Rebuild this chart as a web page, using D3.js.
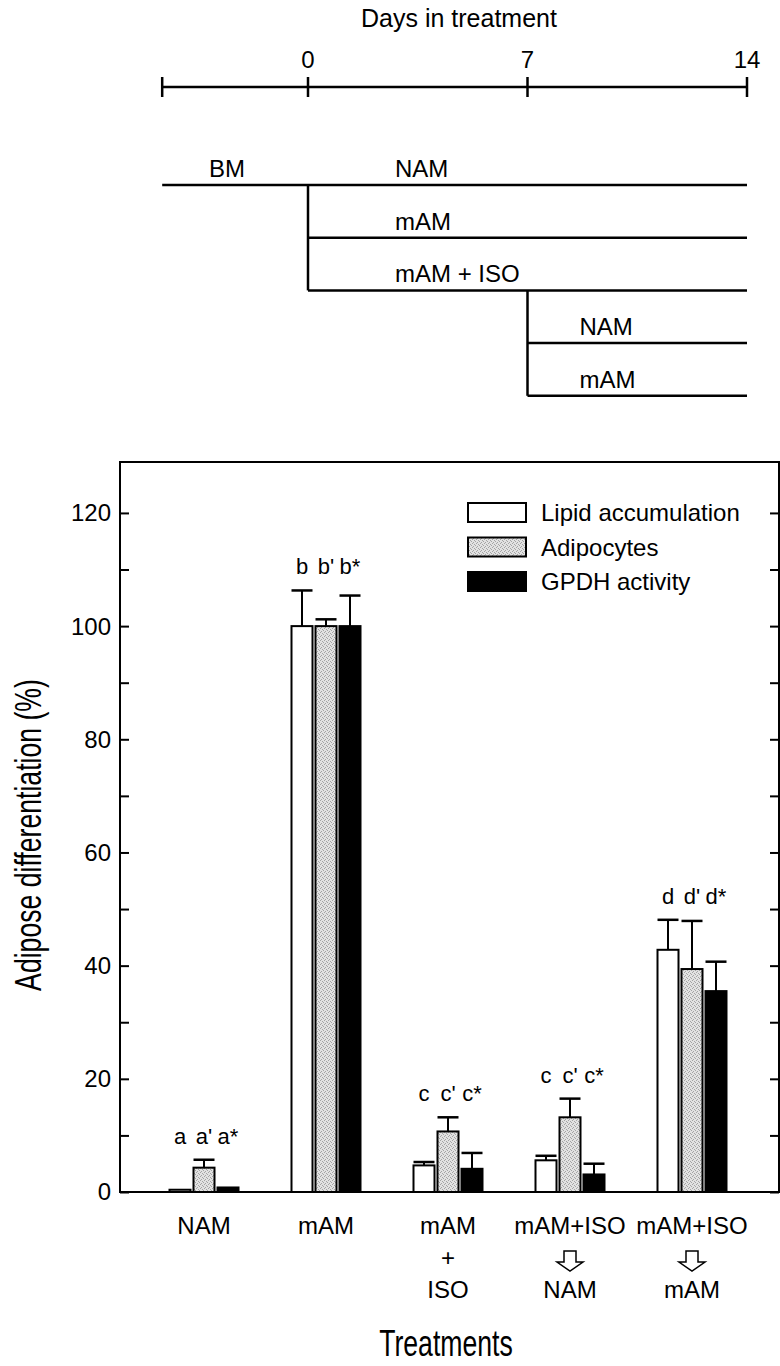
<!DOCTYPE html>
<html>
<head>
<meta charset="utf-8">
<script src="https://cdn.jsdelivr.net/npm/d3@7"></script>
<style>
  body { margin: 0; background: #fff; }
  svg { display: block; font-family: "Liberation Sans", Arial, sans-serif; }
</style>
</head>
<body>
<div id="chart"></div>
<script>
// Timeline (days in treatment)
const dayTicks = [0, 7, 14];
const bmStart = -4.65;
const phases = [
  {label: "BM", from: bmStart, to: 0, row: 0},
  {label: "NAM", from: 0, to: 14, row: 0},
  {label: "mAM", from: 0, to: 14, row: 1},
  {label: "mAM + ISO", from: 0, to: 14, row: 2},
  {label: "NAM", from: 7, to: 14, row: 3},
  {label: "mAM", from: 7, to: 14, row: 4}
];
const branches = [
  {day: 0, fromRow: 0, toRow: 2},
  {day: 7, fromRow: 2, toRow: 4}
];

// Bar chart data
const treatments = ["NAM", "mAM", "mAM+ISO", "mAM+ISO>NAM", "mAM+ISO>mAM"];
const treatmentLines = [["NAM"], ["mAM"], ["mAM", "+", "ISO"], ["mAM+ISO", "arrow", "NAM"], ["mAM+ISO", "arrow", "mAM"]];
const series = ["Lipid accumulation", "Adipocytes", "GPDH activity"];
const lipid = [0.4, 100, 4.7, 5.6, 42.8];
const lipidErr = [0, 6.3, 0.6, 0.8, 5.3];
const adipocytes = [4.3, 100, 10.7, 13.2, 39.4];
const adipocytesErr = [1.4, 1.2, 2.5, 3.3, 8.5];
const gpdh = [0.8, 100, 4.1, 3.1, 35.5];
const gpdhErr = [0, 5.4, 2.8, 1.9, 5.2];
const letters = [["a", "a'", "a*"], ["b", "b'", "b*"], ["c", "c'", "c*"], ["c", "c'", "c*"], ["d", "d'", "d*"]];
const yTicks = [0, 20, 40, 60, 80, 100, 120];

const fills = ["#ffffff", "url(#stipple)", "#000000"];

const W = 780, H = 1366;
const svg = d3.select("#chart").append("svg")
  .attr("width", W).attr("height", H)
  .attr("viewBox", `0 0 ${W} ${H}`);

// light stippled grey like the printed figure
const pat = svg.append("defs").append("pattern")
  .attr("id", "stipple").attr("patternUnits", "userSpaceOnUse")
  .attr("width", 4).attr("height", 4);
pat.append("rect").attr("width", 4).attr("height", 4).attr("fill", "#e2e2e2");
[[0, 0], [2, 1], [1, 3], [3, 2]].forEach(([px, py]) => {
  pat.append("rect").attr("x", px).attr("y", py).attr("width", 1).attr("height", 1).attr("fill", "#a4a4a4");
});

// ---------- timeline ----------
const t = d3.scaleLinear().domain([0, 14]).range([308, 747]);
const axisY = 87;
const rowY = r => 185 + r * 52.7;

svg.append("text")
  .attr("x", 459).attr("y", 27)
  .attr("text-anchor", "middle")
  .style("font-size", "25px")
  .text("Days in treatment");

svg.append("line")
  .attr("x1", t(bmStart)).attr("x2", t(14))
  .attr("y1", axisY).attr("y2", axisY)
  .attr("stroke", "#000").attr("stroke-width", 2.5);

svg.selectAll(".dtick")
  .data([bmStart, ...dayTicks])
  .join("line")
  .attr("x1", d => t(d)).attr("x2", d => t(d))
  .attr("y1", axisY - 10).attr("y2", axisY + 10)
  .attr("stroke", "#000").attr("stroke-width", 2.5);

svg.selectAll(".dlabel")
  .data(dayTicks)
  .join("text")
  .attr("x", d => t(d)).attr("y", 68)
  .attr("text-anchor", "middle")
  .style("font-size", "24px")
  .text(d => d);

svg.selectAll(".phase")
  .data(phases)
  .join("line")
  .attr("x1", d => t(d.from)).attr("x2", d => t(d.to))
  .attr("y1", d => rowY(d.row)).attr("y2", d => rowY(d.row))
  .attr("stroke", "#000").attr("stroke-width", 2.5);

svg.selectAll(".branch")
  .data(branches)
  .join("line")
  .attr("x1", d => t(d.day)).attr("x2", d => t(d.day))
  .attr("y1", d => rowY(d.fromRow)).attr("y2", d => rowY(d.toRow))
  .attr("stroke", "#000").attr("stroke-width", 2.5);

svg.selectAll(".plabel")
  .data(phases)
  .join("text")
  .attr("x", d => d.label === "BM" ? (t(d.from) + t(d.to)) / 2 - 8 : t(d.from) + (d.from === 0 ? 87 : 52))
  .attr("y", d => rowY(d.row) - 8)
  .attr("text-anchor", d => d.label === "BM" ? "middle" : "start")
  .style("font-size", "24px")
  .text(d => d.label);

// ---------- bar chart ----------
const plotL = 120, plotR = 779, plotT = 462, plotB = 1192;
const x = d3.scaleBand().domain(treatments).range([143, 753]);
const xs = d3.scaleBand().domain(series).range([-36, 36]);
const y = d3.scaleLinear().domain([0, 129]).range([plotB, plotT]);
const barW = 21;

const values = [lipid, adipocytes, gpdh];
const errs = [lipidErr, adipocytesErr, gpdhErr];
const bars = [];
treatments.forEach((c, i) => {
  series.forEach((s, j) => {
    bars.push({cat: c, ser: s, j, v: values[j][i], e: errs[j][i], letter: letters[i][j], i});
  });
});
const cx = d => x(d.cat) + x.bandwidth() / 2 + xs(d.ser) + xs.bandwidth() / 2;

// axes (ticks pointing inward)
svg.append("g")
  .attr("transform", `translate(${plotL},0)`)
  .call(d3.axisRight(y).tickValues(d3.range(0, 130, 10)).tickSize(9).tickFormat(""))
  .call(g => g.select(".domain").remove())
  .call(g => g.selectAll("line").attr("stroke-width", 2));

svg.append("g")
  .attr("transform", `translate(${plotR},0)`)
  .call(d3.axisLeft(y).tickValues(d3.range(0, 130, 10)).tickSize(9).tickFormat(""))
  .call(g => g.select(".domain").remove())
  .call(g => g.selectAll("line").attr("stroke-width", 2));

svg.selectAll(".ylab")
  .data(yTicks)
  .join("text")
  .attr("x", plotL - 9).attr("y", d => y(d))
  .attr("dy", "0.35em")
  .attr("text-anchor", "end")
  .style("font-size", "24px")
  .text(d => d);

// frame
svg.append("rect")
  .attr("x", plotL).attr("y", plotT)
  .attr("width", plotR - plotL).attr("height", plotB - plotT)
  .attr("fill", "none").attr("stroke", "#000").attr("stroke-width", 2);

// error bars
const eb = svg.append("g").selectAll("g")
  .data(bars.filter(d => d.e > 0))
  .join("g");
eb.append("line")
  .attr("x1", cx).attr("x2", cx)
  .attr("y1", d => y(d.v)).attr("y2", d => y(d.v + d.e))
  .attr("stroke", "#000").attr("stroke-width", 2);
eb.append("line")
  .attr("x1", d => cx(d) - barW / 2).attr("x2", d => cx(d) + barW / 2)
  .attr("y1", d => y(d.v + d.e)).attr("y2", d => y(d.v + d.e))
  .attr("stroke", "#000").attr("stroke-width", 2.5);

// bars
svg.append("g").selectAll("rect")
  .data(bars)
  .join("rect")
  .attr("x", d => cx(d) - barW / 2)
  .attr("y", d => y(d.v))
  .attr("width", barW)
  .attr("height", d => y(0) - y(d.v))
  .attr("fill", d => fills[d.j])
  .attr("stroke", "#000").attr("stroke-width", 2);

// significance letters
const groupTop = treatments.map((c, i) => d3.max(series, (s, j) => values[j][i] + errs[j][i]));
svg.append("g").selectAll("text")
  .data(bars)
  .join("text")
  .attr("x", cx)
  .attr("y", d => y(groupTop[d.i]) - 16)
  .attr("text-anchor", "middle")
  .style("font-size", "22px")
  .text(d => d.letter);

// legend
const lg = svg.append("g").attr("transform", "translate(468,503)");
series.forEach((s, j) => {
  lg.append("rect")
    .attr("x", 0).attr("y", j * 34.5)
    .attr("width", 58).attr("height", 19)
    .attr("fill", fills[j]).attr("stroke", "#000").attr("stroke-width", 2);
  lg.append("text")
    .attr("x", 73).attr("y", j * 34.5 + 18)
    .style("font-size", "24px")
    .text(s);
});

// category labels
treatments.forEach((c, i) => {
  const gx = x(c) + x.bandwidth() / 2;
  treatmentLines[i].forEach((ln, k) => {
    const ly = 1234 + k * 32;
    if (ln === "arrow") {
      const ay = 1251;
      svg.append("path")
        .attr("d", `M${gx - 6},${ay} L${gx + 6},${ay} L${gx + 6},${ay + 11} L${gx + 13},${ay + 11} L${gx},${ay + 20} L${gx - 13},${ay + 11} L${gx - 6},${ay + 11} Z`)
        .attr("fill", "#fff").attr("stroke", "#000").attr("stroke-width", 1.5);
    } else {
      svg.append("text")
        .attr("x", gx).attr("y", ly)
        .attr("text-anchor", "middle")
        .style("font-size", "24px")
        .text(ln);
    }
  });
});

// axis titles (condensed face, squeezed along the baseline)
svg.append("text")
  .attr("transform", "translate(41,835) rotate(-90) scale(0.72,1)")
  .attr("text-anchor", "middle")
  .style("font-size", "37px")
  .text("Adipose differentiation (%)");

svg.append("text")
  .attr("transform", "translate(446,1356) scale(0.72,1)")
  .attr("text-anchor", "middle")
  .style("font-size", "37px")
  .text("Treatments");
</script>
</body>
</html>
